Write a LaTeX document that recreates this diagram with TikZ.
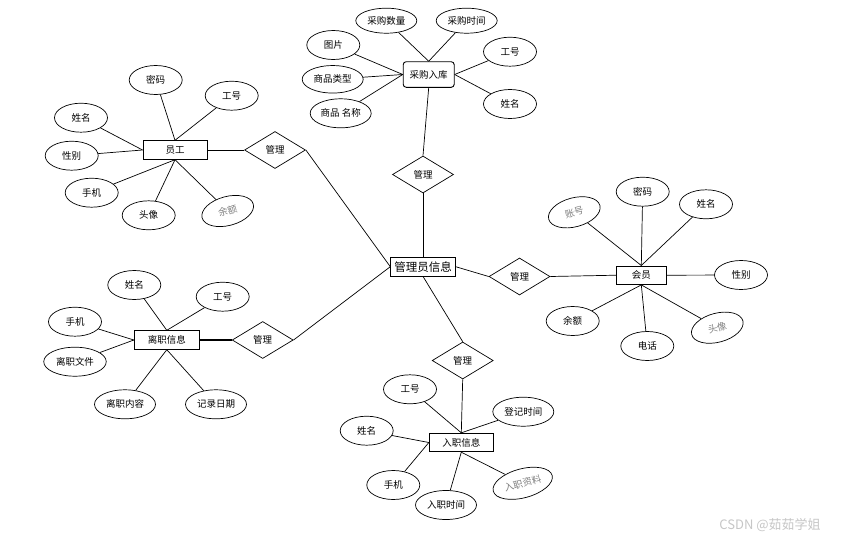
\documentclass[tikz,border=0pt]{standalone}
\usepackage{fontspec}
\newfontfamily\cjk{Noto Sans CJK SC}
\usetikzlibrary{shapes.geometric,positioning}

\tikzset{
  attr/.style={draw, ellipse, line width=0.7pt, minimum width=53pt, minimum height=29pt,
    inner sep=0pt, font=\cjk\fontsize{9.5}{10}\selectfont},
  wattr/.style={attr, minimum width=61pt},
  tilted/.style={rotate=15, text=gray},
  entity/.style={draw, rectangle, line width=0.9pt, minimum width=64pt, minimum height=18.5pt,
    inner sep=0pt, font=\cjk\fontsize{9.5}{10}\selectfont},
  rel/.style={draw, diamond, line width=0.7pt, minimum width=61pt, minimum height=37pt,
    inner sep=0pt, font=\cjk\fontsize{9.5}{10}\selectfont},
  link/.style={line width=0.7pt},
}

\begin{document}
\begin{tikzpicture}[x=1pt,y=-1pt]
    \useasboundingbox (0,0) rectangle (841,541);

    % Central entity
    \node[entity, minimum width=64.5pt, font=\cjk\fontsize{11.5}{12}\selectfont] (gly) at (423,266.7) {管理员信息};

    % Staff (top-left)
    \node[entity] (yg) at (175,150) {员工};
    \node[attr] (ygmm) at (155.7,80) {密码};
    \node[attr] (yggh) at (231.7,95.7) {工号};
    \node[attr] (ygxm) at (81,117.7) {姓名};
    \node[attr] (ygxb) at (71.7,155.7) {性别};
    \node[attr] (ygsj) at (91.7,192.7) {手机};
    \node[attr] (ygtx) at (148.7,215.3) {头像};
    \node[attr, tilted] (ygye) at (227.7,211) {余额};
    \foreach \a in {ygmm,yggh} \draw[link] (yg.north) -- (\a);
    \foreach \a in {ygxm,ygxb} \draw[link] (yg.west) -- (\a);
    \foreach \a in {ygsj,ygtx,ygye} \draw[link] (yg.south) -- (\a);
    \node[rel] (gl1) at (275,150) {管理};
    \draw[link] (yg.east) -- (gl1.west);
    \draw[link] (gl1.east) -- (gly.west);

    % Purchase (top)
    \node[entity, rounded corners=3pt, minimum width=51pt, minimum height=25.6pt] (cg) at (428.7,74.5) {采购入库};
    \node[wattr, minimum height=25pt] (cgsl) at (386.3,20.7) {采购数量};
    \node[wattr, minimum height=25pt] (cgsj) at (466.7,20.7) {采购时间};
    \node[attr] (cgtp) at (333.3,45) {图片};
    \node[wattr, minimum height=27.5pt] (cglx) at (332.7,79.3) {商品类型};
    \node[wattr] (cgmc) at (340.7,113.3) {商品 名称};
    \node[attr] (cggh) at (510,51.7) {工号};
    \node[attr] (cgxm) at (510,104) {姓名};
    \foreach \a in {cgsl,cgsj} \draw[link] (cg.north) -- (\a);
    \foreach \a in {cgtp,cglx,cgmc} \draw[link] (cg.west) -- (\a);
    \foreach \a in {cggh,cgxm} \draw[link] (cg.east) -- (\a);
    \node[rel] (gl2) at (423,174.5) {管理};
    \draw[link] (cg.south) -- (gl2.north);
    \draw[link] (gl2.south) -- (gly.north);

    % Member (right)
    \node[entity, minimum width=49.3pt] (hy) at (641.3,275.2) {会员};
    \node[attr, tilted] (hyzh) at (574.3,212.3) {账号};
    \node[attr] (hymm) at (642.7,191.7) {密码};
    \node[attr] (hyxm) at (706,204.3) {姓名};
    \node[attr] (hyxb) at (741,275) {性别};
    \node[attr] (hyye) at (572.7,321) {余额};
    \node[attr] (hydh) at (647.3,346) {电话};
    \node[attr, tilted] (hytx) at (717.3,327.7) {头像};
    \foreach \a in {hyzh,hymm,hyxm} \draw[link] (hy.north) -- (\a);
    \draw[link] (hy.east) -- (hyxb);
    \foreach \a in {hyye,hydh,hytx} \draw[link] (hy.south) -- (\a);
    \node[rel] (gl3) at (519.5,276.5) {管理};
    \draw[link] (gly.east) -- (gl3.west);
    \draw[link] (gl3.east) -- (hy.west);

    % Onboarding (bottom)
    \node[entity] (rz) at (461.3,442.5) {入职信息};
    \node[attr] (rzgh) at (410,389.3) {工号};
    \node[wattr] (rzdj) at (523.3,411.7) {登记时间};
    \node[attr] (rzxm) at (366.7,430.7) {姓名};
    \node[attr] (rzsj) at (393.3,485) {手机};
    \node[wattr] (rzsjian) at (446,505) {入职时间};
    \node[wattr, tilted] (rzzl) at (522.7,483.3) {入职资料};
    \foreach \a in {rzgh,rzdj} \draw[link] (rz.north) -- (\a);
    \foreach \a in {rzxm,rzsj} \draw[link] (rz.west) -- (\a);
    \foreach \a in {rzsjian,rzzl} \draw[link] (rz.south) -- (\a);
    \node[rel] (gl4) at (462.7,360.5) {管理};
    \draw[link] (gly.south) -- (gl4.north);
    \draw[link] (gl4.south) -- (rz.north);

    % Resignation (bottom-left)
    \node[entity, minimum width=65pt] (lz) at (166.8,340) {离职信息};
    \node[attr] (lzxm) at (134.3,285) {姓名};
    \node[attr] (lzgh) at (222.7,296.7) {工号};
    \node[attr] (lzsj) at (75,321.7) {手机};
    \node[wattr, minimum width=62.5pt] (lzwj) at (75,361.7) {离职文件};
    \node[wattr] (lznr) at (125,404.3) {离职内容};
    \node[wattr] (lzrq) at (216,404.3) {记录日期};
    \foreach \a in {lzxm,lzgh} \draw[link] (lz.north) -- (\a);
    \foreach \a in {lzsj,lzwj} \draw[link] (lz.west) -- (\a);
    \foreach \a in {lznr,lzrq} \draw[link] (lz.south) -- (\a);
    \node[rel] (gl5) at (262.7,340) {管理};
    \draw[link, line width=1.2pt] (lz.east) -- (gl5.west);
    \draw[link] (gl5.east) -- (gly.west);

    % Watermark
    \node[text=gray!45, font=\cjk\fontsize{13}{14}\selectfont] (wm) at (770,525) {CSDN @茹茹学姐};
\end{tikzpicture}
\end{document}
